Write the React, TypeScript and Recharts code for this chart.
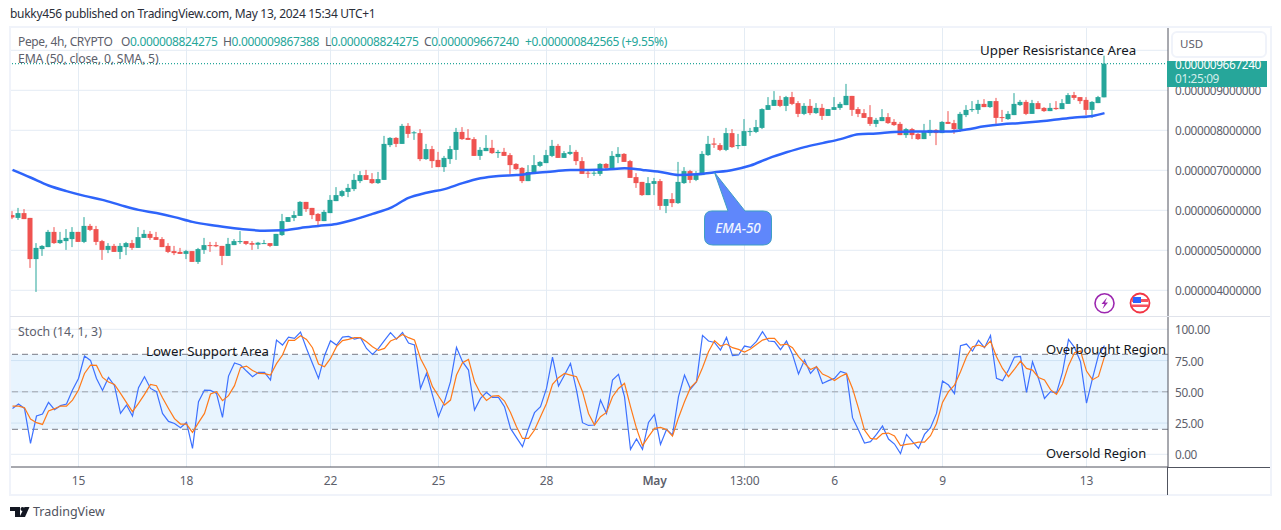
import { Bar, CartesianGrid, ComposedChart, Line, ReferenceArea, ReferenceLine, XAxis, YAxis } from "recharts"

// prices are in units of 0.000001 USD
const opens = [
  5.88,5.81,5.93,5.81,4.78,5.03,5.08,5.46,5.18,5.23,
  5.28,5.46,5.21,5.61,5.53,5.23,5.01,5.11,4.96,5.08,
  5.18,5.06,5.31,5.41,5.33,5.28,5.11,4.98,4.96,4.91,
  4.98,4.71,5.01,5.13,5.13,5.11,4.86,5.13,5.21,5.23,
  5.18,5.14,5.16,5.18,5.11,5.38,5.71,5.81,5.86,6.21,
  6.06,5.91,5.73,5.93,6.23,6.36,6.46,6.53,6.73,6.88,
  6.78,6.68,6.76,7.63,7.81,7.66,8.11,7.93,7.93,7.28,
  7.53,7.26,7.08,7.28,7.51,7.96,7.81,7.78,7.36,7.48,
  7.56,7.43,7.46,7.38,7.16,7.06,6.73,6.93,7.11,7.18,
  7.36,7.61,7.31,7.41,7.46,7.23,6.94,6.92,6.91,7.16,
  7.03,7.33,7.41,7.23,6.83,6.71,6.38,6.66,6.73,6.11,
  6.28,6.18,6.68,6.98,6.76,6.88,7.38,7.67,7.63,7.51,
  7.93,7.61,7.61,7.96,7.96,8.06,8.51,8.61,8.76,8.61,
  8.83,8.68,8.41,8.61,8.43,8.56,8.36,8.51,8.56,8.63,
  8.86,8.53,8.43,8.33,8.16,8.23,8.33,8.21,8.16,7.88,
  8.03,7.91,7.78,7.93,8.01,7.93,8.21,8.18,8.03,8.38,
  8.51,8.51,8.66,8.58,8.73,8.33,8.28,8.38,8.63,8.71,
  8.41,8.68,8.56,8.48,8.56,8.53,8.66,8.88,8.83,8.76,
  8.51,8.68,8.824,
]
const highs = [
  5.98,6.06,6.03,5.81,5.18,5.13,5.51,5.58,5.46,5.53,
  5.58,5.46,5.83,5.66,5.61,5.26,5.18,5.16,5.18,5.21,
  5.26,5.58,5.51,5.48,5.46,5.33,5.18,5.11,5.06,5.01,
  4.98,5.06,5.31,5.21,5.21,5.11,5.31,5.28,5.48,5.23,
  5.23,5.21,5.26,5.18,5.41,5.91,5.83,5.98,6.23,6.21,
  6.06,5.93,6.01,6.38,6.58,6.51,6.66,6.91,6.98,7.01,
  6.93,6.96,7.86,7.83,7.83,8.16,8.18,7.98,8.03,7.66,
  7.61,7.46,7.36,7.61,8.06,8.08,8.03,7.83,7.58,7.88,
  7.76,7.51,7.56,7.43,7.18,7.08,7.13,7.38,7.23,7.51,
  7.76,7.66,7.48,7.63,7.51,7.33,7.01,7.03,7.18,7.18,
  7.48,7.58,7.43,7.26,6.93,6.71,6.83,6.81,6.78,6.28,
  6.43,7.21,7.08,7.01,6.98,7.48,7.86,7.81,7.68,8.06,
  8.03,7.91,8.28,8.06,8.26,8.55,8.83,8.98,8.86,8.86,
  8.96,8.73,8.68,8.78,8.68,8.66,8.53,8.83,8.71,9.16,
  8.86,8.58,8.53,8.63,8.31,8.53,8.43,8.28,8.21,8.06,
  8.06,7.93,8.16,8.26,8.03,8.23,8.48,8.26,8.46,8.63,
  8.73,8.76,8.78,8.73,8.81,8.51,8.48,8.93,8.76,8.76,
  8.76,8.73,8.58,8.68,8.73,8.78,8.93,8.96,8.83,8.83,
  8.73,8.86,9.867,
]
const lows = [
  5.78,5.76,5.78,4.56,3.96,4.86,5.08,5.16,5.16,5.01,
  5.08,5.21,5.18,5.48,5.13,4.76,4.93,4.96,4.78,4.88,
  5.01,5.06,5.31,5.26,5.26,5.08,4.93,4.88,4.91,4.78,
  4.71,4.66,4.91,4.96,5.08,4.63,4.86,5.13,5.16,5.13,
  5.01,5.03,5.16,5.08,5.11,5.36,5.71,5.73,5.86,5.96,
  5.78,5.63,5.73,5.93,6.23,6.33,6.33,6.48,6.68,6.76,
  6.66,6.66,6.76,7.58,7.58,7.66,7.81,7.76,7.23,7.26,
  7.06,7.08,6.96,7.16,7.26,7.76,7.76,7.36,7.26,7.48,
  7.41,7.31,7.36,6.91,7.01,6.68,6.73,6.93,7.08,7.18,
  7.33,7.31,7.31,7.38,7.13,6.91,6.81,6.86,6.86,7.01,
  7.01,7.18,7.21,6.81,6.56,6.36,6.38,6.38,6.01,5.93,
  6.08,6.16,6.66,6.68,6.73,6.88,7.36,7.56,7.48,7.48,
  7.56,7.53,7.61,7.86,7.93,8.03,8.51,8.61,8.58,8.48,
  8.63,8.33,8.38,8.38,8.41,8.26,8.36,8.51,8.51,8.63,
  8.36,8.33,8.31,8.11,8.08,8.23,8.16,8.11,7.88,7.81,
  7.78,7.76,7.78,7.86,7.63,7.93,8.16,7.91,7.96,8.33,
  8.46,8.41,8.58,8.56,8.16,8.21,8.26,8.38,8.61,8.38,
  8.41,8.53,8.46,8.48,8.51,8.53,8.66,8.76,8.66,8.38,
  8.31,8.68,8.824,
]
const closes = [
  5.82,5.93,5.78,4.78,5.06,5.11,5.46,5.18,5.26,5.31,
  5.46,5.21,5.61,5.51,5.21,5.01,5.11,4.96,5.11,5.18,
  5.06,5.33,5.41,5.31,5.26,5.08,4.96,4.93,4.91,4.98,
  4.71,5.03,5.13,5.11,5.10,4.86,5.16,5.23,5.23,5.16,
  5.14,5.19,5.18,5.11,5.41,5.73,5.83,5.88,6.21,6.03,
  5.88,5.73,5.96,6.26,6.38,6.48,6.56,6.76,6.88,6.76,
  6.68,6.78,7.66,7.81,7.66,8.11,7.91,7.95,7.28,7.53,
  7.23,7.08,7.31,7.53,7.96,7.78,7.76,7.36,7.51,7.56,
  7.43,7.46,7.36,7.13,7.03,6.73,6.96,7.13,7.21,7.38,
  7.61,7.31,7.43,7.46,7.23,6.91,6.92,6.94,7.16,7.06,
  7.36,7.41,7.21,6.81,6.68,6.38,6.68,6.73,6.11,6.28,
  6.18,6.71,6.98,6.76,6.91,7.41,7.66,7.64,7.51,7.93,
  7.58,7.63,7.98,7.98,8.08,8.53,8.63,8.76,8.61,8.83,
  8.66,8.41,8.61,8.43,8.56,8.36,8.53,8.58,8.66,8.86,
  8.51,8.41,8.31,8.16,8.26,8.33,8.18,8.13,7.88,8.03,
  7.88,7.78,7.98,8.01,7.93,8.21,8.16,8.03,8.41,8.51,
  8.53,8.66,8.58,8.73,8.31,8.31,8.41,8.66,8.71,8.41,
  8.68,8.53,8.48,8.56,8.53,8.68,8.88,8.81,8.73,8.51,
  8.71,8.83,9.667,
]
// EMA read every third candle, plus the last one
const emaEveryThird = [
  7.01,6.82,6.62,6.48,6.36,6.26,6.13,6.01,5.93,5.83,
  5.71,5.63,5.57,5.52,5.49,5.50,5.56,5.61,5.66,5.77,
  5.91,6.06,6.31,6.44,6.53,6.68,6.80,6.86,6.88,6.93,
  6.97,7.01,7.01,7.02,7.05,7.01,6.96,6.88,6.90,6.95,
  7.01,7.12,7.30,7.45,7.58,7.68,7.78,7.90,7.92,7.96,
  7.97,7.97,7.97,8.02,8.10,8.15,8.18,8.22,8.27,8.32,
  8.36,
]
const emaLast = 8.43

const stochK = [
  36.7,40.2,36.7,8.7,30.6,32.2,41.5,35.7,38.9,40.2,
  51.4,60.7,78.6,75.1,60.7,51.1,61.5,54.9,32.7,39.4,
  30.6,53.3,62.1,52.7,50.1,32.7,26.3,24.7,21.3,25.5,
  4.7,42.1,51.4,51.1,48.7,29.5,62.6,73,71.4,66.6,
  62.1,65.5,65.5,59.4,91.4,87.4,93.8,92.7,97.8,84.7,
  72.7,60.7,78.9,90.9,87.4,93.8,94.3,92.2,93.3,84.7,
  79.9,84.7,91.1,97.3,92.2,97.5,89,87.4,52.7,64.7,
  47.4,30.1,42.1,58.1,85.5,74.1,67.4,35.4,44.7,49.5,
  45.5,45.5,38.1,20.7,13.3,6.1,20.7,33.3,38.1,52.7,
  77.8,54.6,63.4,72.7,51.4,25.3,23.1,23.4,43.4,32.7,
  59.4,63.9,46.1,3.9,12.2,3.9,25.5,31.9,7.9,19.9,
  15.4,46.1,63.4,52.2,58.1,95.1,90.6,89.5,83.4,93.5,
  78.9,79.4,86.6,85.5,90.3,98.1,90.6,90.1,83.7,90.6,
  79.9,64.2,75.4,64.7,70.1,56.7,58.9,60.7,66.3,64.7,
  29.3,19.4,9,10.1,15.9,22.6,12.2,8.2,0.5,15.9,
  10.1,4.7,15.9,21.3,32.7,58.6,55.4,48.5,86.9,88.2,
  82.6,91.1,85.3,95.1,60.7,58.9,67.4,77.8,78.3,49.5,
  74.1,60.7,44.7,50.1,49,65.5,91.9,85.5,74.1,41,
  60.7,79.4,86.9,
]
const stochD = [
  38.6,38.6,37.3,28.2,25.3,23.9,34.6,36.5,38.6,38.6,
  43.4,51.4,64.7,71.4,71.1,61.5,57.8,55.9,48.7,41.3,
  34.1,40.7,47.9,55.9,54.9,45.3,36.7,28.5,24.2,24.2,
  17.5,25.3,32.7,48.2,50.1,42.9,46.9,54.9,69.3,70.6,
  67.1,64.7,64.5,63.4,72.5,79.4,91.1,91.1,94.9,91.9,
  85.3,72.2,70.1,76.7,86.1,90.9,91.9,93.3,93.3,90.1,
  86.1,83.1,84.7,90.6,92.7,95.9,93.3,91.4,76.7,67.4,
  54.1,46.6,39.4,43.4,63.4,73.3,75.9,58.1,48.7,43.1,
  46.6,46.9,42.6,33.5,22.1,12.7,12.7,19.4,30.1,40.7,
  55.9,61.3,64.7,63.4,62.1,50.1,32.7,23.4,30.1,33.5,
  46.1,52.7,56.7,38.1,20.7,6.9,14.1,20.7,21.5,19.9,
  14.6,29.3,42.1,53.3,58.1,69.3,82.1,90.9,86.6,88.2,
  85.3,83.9,81.8,84.2,87.9,91.4,92.7,92.7,87.4,88.2,
  85.3,78.1,72.7,67.9,70.1,64.2,62.1,59.1,62.3,64.5,
  52.7,36.7,19.4,12.7,12.2,16.5,17,14.6,6.9,7.9,
  8.5,9.8,9.8,14.9,24.7,41.5,50.1,55.4,66.1,78.1,
  86.1,87.4,85.8,90.6,78.1,68.7,62.1,68.2,74.6,68.7,
  67.4,61.5,59.4,51.7,47.9,56.2,70.9,81.3,82.6,66.6,
  59.7,62.3,78.1,
]

const timeTickIndexes = [11, 29, 53, 71, 89, 107, 122, 137, 155, 179]
const timeTickLabels = ["15", "18", "22", "25", "28", "May", "13:00", "6", "9", "13"]
const priceTicks = [4, 5, 6, 7, 8, 9]
const priceGrid = [4, 5, 6, 7, 8, 9, 10]
const stochTicks = [0, 25, 50, 75, 100]
const lastPrice = 9.667

const rows = opens.map((open, i) => ({
  i,
  open,
  close: closes[i],
  high: highs[i],
  low: lows[i],
  range: [lows[i], highs[i]],
  ema: i === opens.length - 1 ? emaLast : i % 3 === 0 ? emaEveryThird[i / 3] : undefined,
  k: stochK[i],
  d: stochD[i],
}))

const UP = "#26a69a"
const DOWN = "#ef5350"
const GRID = "#e4ecf4"
const AXIS = "#50535e"
const LABEL = "#5d606b"
const FONT = "'Noto Sans', sans-serif"
const xDomain = [-0.4167, 192.5833]
const axisTick = { fontSize: 11.8, letterSpacing: -0.35, fontFamily: FONT, fill: LABEL, dy: 1 }

function Candle(props: any) {
  const { x, y, width, height, payload } = props
  const top = Math.min(y, y + height)
  const h = Math.abs(height)
  const span = payload.high - payload.low
  const cx = x + width / 2
  const py = (v: number) => top + ((payload.high - v) / span) * h
  const bodyTop = py(Math.max(payload.open, payload.close))
  const bodyBot = py(Math.min(payload.open, payload.close))
  const color = payload.close >= payload.open ? UP : DOWN
  return (
    <g>
      <rect x={cx - 0.5} y={top} width={1} height={h} fill={color} />
      <rect x={cx - 2.5} y={bodyTop} width={5} height={Math.max(bodyBot - bodyTop, 1)} fill={color} />
    </g>
  )
}

function TimeTick(props: any) {
  const { x, y, payload } = props
  const label = timeTickLabels[timeTickIndexes.indexOf(payload.value)]
  return (
    <text x={x} y={y + 10} textAnchor="middle" fontSize={12} letterSpacing={-0.2} fontFamily={FONT} fill={LABEL} fontWeight={label === "May" ? 600 : 400}>
      {label}
    </text>
  )
}

function Txt({ x, y, size = 12, spacing = -0.35, color = LABEL, children }: any) {
  return (
    <div
      style={{
        position: "absolute",
        left: x,
        top: y,
        transform: "translateY(-50%)",
        fontFamily: FONT,
        fontSize: size,
        letterSpacing: spacing,
        color,
        whiteSpace: "nowrap",
        lineHeight: 1,
      }}
    >
      {children}
    </div>
  )
}

function Box({ x, y, w, h, color }: any) {
  return <div style={{ position: "absolute", left: x, top: y, width: w, height: h, background: color }} />
}

export default function App() {
  return (
    <div style={{ position: "absolute", left: 0, top: 0, width: 1281, height: 530, background: "#fff", overflow: "hidden" }}>
      <Txt x={10} y={14} spacing={-0.3} color="#2a2e39">bukky456 published on TradingView.com, May 13, 2024 15:34 UTC+1</Txt>

      <div style={{ position: "absolute", left: 10, top: 27 }}>
        <ComposedChart width={1262} height={289} data={rows} margin={{ top: 0, right: 0, bottom: 0, left: 0 }}>
          <CartesianGrid stroke={GRID} strokeWidth={1} horizontalValues={priceGrid} verticalValues={timeTickIndexes} />
          <XAxis dataKey="i" type="number" domain={xDomain} hide allowDataOverflow ticks={timeTickIndexes} />
          <YAxis
            orientation="right"
            width={104}
            domain={[3.3575, 10.5825]}
            allowDataOverflow
            ticks={priceTicks}
            tickLine={false}
            axisLine={{ stroke: AXIS }}
            tickMargin={1}
            tick={axisTick}
            tickFormatter={(v: number) => (v * 1e-6).toFixed(12)}
          />
          <ReferenceLine y={lastPrice} stroke={UP} strokeWidth={1.4} strokeDasharray="1 2" />
          <Line dataKey="ema" type="monotone" connectNulls stroke="#2e64fa" strokeWidth={2.5} dot={false} isAnimationActive={false} />
          <Bar dataKey="range" barSize={5} shape={Candle} isAnimationActive={false} />
        </ComposedChart>
      </div>

      <div style={{ position: "absolute", left: 10, top: 317 }}>
        <ComposedChart width={1262} height={178} data={rows} margin={{ top: 0, right: 0, bottom: 0, left: 0 }}>
          <CartesianGrid stroke={GRID} strokeWidth={1} horizontalValues={stochTicks} verticalValues={timeTickIndexes} />
          <XAxis
            dataKey="i"
            type="number"
            domain={xDomain}
            allowDataOverflow
            height={28}
            ticks={timeTickIndexes}
            tickLine={false}
            axisLine={{ stroke: AXIS }}
            tick={TimeTick}
            interval={0}
          />
          <YAxis
            orientation="right"
            width={104}
            domain={[-10.16, 109.84]}
            allowDataOverflow
            ticks={stochTicks}
            tickLine={false}
            axisLine={{ stroke: AXIS }}
            tickMargin={1}
            tick={axisTick}
            tickFormatter={(v: number) => v.toFixed(2)}
          />
          <ReferenceArea y1={20} y2={80} fill="#2196f3" fillOpacity={0.1} stroke="none" />
          <ReferenceLine y={80} stroke="#787b86" strokeDasharray="6 4" />
          <ReferenceLine y={50} stroke="#a0a3ac" strokeDasharray="6 4" />
          <ReferenceLine y={20} stroke="#787b86" strokeDasharray="6 4" />
          <Line dataKey="k" type="linear" stroke="#3d71ff" strokeWidth={1.2} dot={false} isAnimationActive={false} />
          <Line dataKey="d" type="linear" stroke="#ff7a1a" strokeWidth={1.2} dot={false} isAnimationActive={false} />
        </ComposedChart>
      </div>

      {/* frame and pane separators */}
      <div style={{ position: "absolute", left: 9, top: 26, width: 1259, height: 466, border: "2px solid #f0f3fa", pointerEvents: "none" }} />
      <Box x={10} y={316} w={1260} h={1} color="#e0e3eb" />
      <Box x={1167} y={467} w={1} h={28} color={AXIS} />
      <Box x={1168} y={467} w={102} h={1} color={AXIS} />

      {/* legend */}
      <Txt x={18} y={42}>Pepe, 4h, CRYPTO</Txt>
      <Txt x={121} y={42}>O<span style={{ color: UP }}>0.000008824275</span></Txt>
      <Txt x={223} y={42}>H<span style={{ color: UP }}>0.000009867388</span></Txt>
      <Txt x={325} y={42}>L<span style={{ color: UP }}>0.000008824275</span></Txt>
      <Txt x={424} y={42}>C<span style={{ color: UP }}>0.000009667240</span></Txt>
      <Txt x={525} y={42} color={UP}>+0.000000842565 (+9.55%)</Txt>
      <Txt x={18} y={59} size={12.3} spacing={-0.2}>EMA (50, close, 0, SMA, 5)</Txt>
      <Txt x={18} y={332} size={12.3} spacing={0}>Stoch (14, 1, 3)</Txt>

      {/* price scale badges */}
      <div style={{ position: "absolute", left: 1171, top: 31, width: 92, height: 23, background: "#fff", border: "2px solid #f0f3fa", borderRadius: 6 }} />
      <Txt x={1180} y={44} size={11.5} spacing={0}>USD</Txt>
      <div style={{ position: "absolute", left: 1167, top: 61, width: 100, height: 26, background: UP, overflow: "hidden" }} />
      <Txt x={1175} y={65} size={11.8} color="#fff">0.000009667240</Txt>
      <Txt x={1175} y={79} size={11.8} color="#d4eeeb">01:25:09</Txt>

      {/* annotations */}
      <Txt x={980} y={51} size={13.3} spacing={0} color="#131722">Upper Resisristance Area</Txt>
      <Txt x={146} y={352} size={13.2} spacing={0} color="#131722">Lower Support Area</Txt>
      <Txt x={1046} y={349} size={13} spacing={0} color="#131722">Overbought Region</Txt>
      <Txt x={1046} y={453} size={12.9} spacing={0} color="#131722">Oversold Region</Txt>

      <svg width={1281} height={530} style={{ position: "absolute", left: 0, top: 0, pointerEvents: "none" }}>
        <path
          d="M712 211 L728 211 L714.5 172.5 L745 211 L763 211 Q771.5 211 771.5 219 L771.5 237 Q771.5 245 763 245 L713 245 Q704.5 245 704.5 237 L704.5 219 Q704.5 211 712 211 Z"
          fill="#5f87fb"
          stroke="#3f9fc4"
          strokeWidth={1}
        />
        <text x={738} y={233} textAnchor="middle" fontFamily={FONT} fontStyle="italic" fontSize={13.5} fontWeight={500} fill="#f0f4ff">EMA-50</text>

        <circle cx={1104.5} cy={303.3} r={9.5} fill="#fff" stroke="#9c27b0" strokeWidth={1.6} />
        <path d="M1107 297.5 L1101.5 304 L1104.5 304 L1102.5 309 L1108 302.5 L1105 302.5 Z" fill="#9c27b0" />

        <circle cx={1140} cy={303} r={9.5} fill="#fff" stroke="#f23645" strokeWidth={1.8} />
        <path d="M1132 299 H1148 V302 H1132 Z M1132 304.5 H1148 V307 H1132 Z" fill="#f7525f" />
        <rect x={1133} y={297} width={8} height={6} fill="#2962ff" />

        <path d="M10 507 H20 V517 H15 V511 H10 Z" fill="#131722" />
        <circle cx={22.5} cy={509} r={2} fill="#131722" />
        <path d="M24.5 507 H29.5 L25 517 H19.5 Z" fill="#131722" />
      </svg>
      <Txt x={33} y={512} size={12.5} spacing={0} color={AXIS}>TradingView</Txt>
    </div>
  )
}
